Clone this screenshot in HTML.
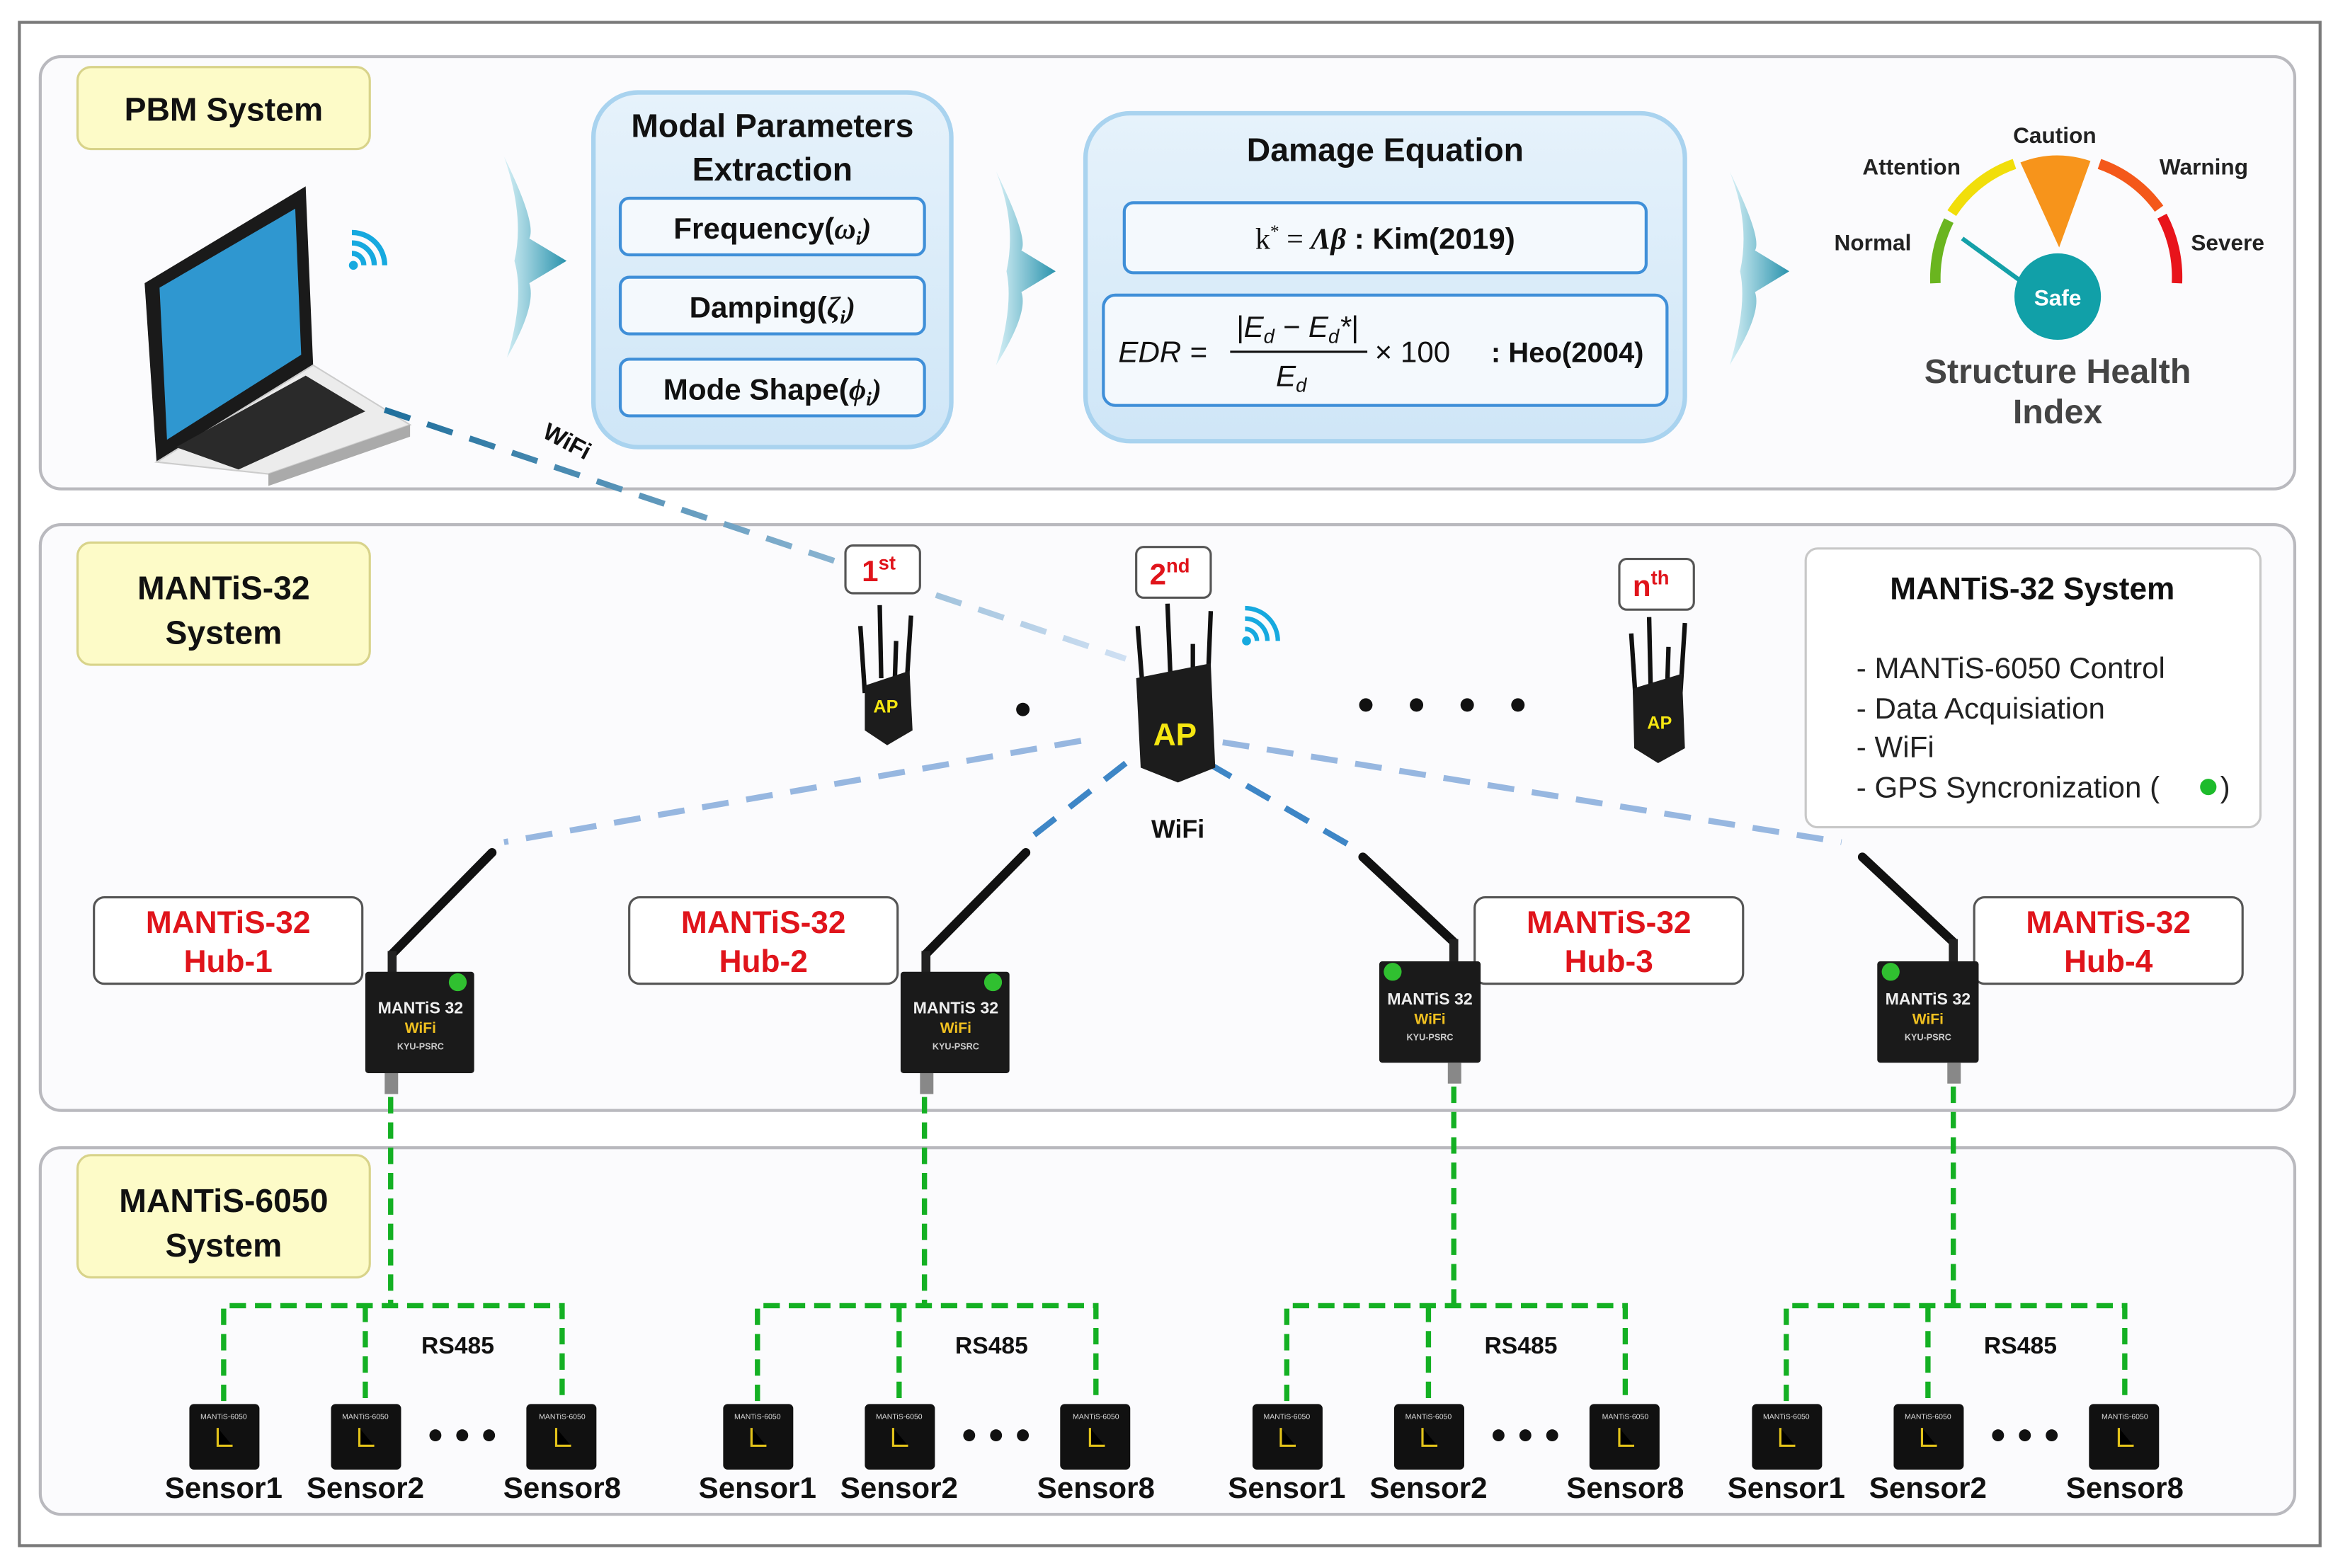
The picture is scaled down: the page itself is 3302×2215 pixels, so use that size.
<!DOCTYPE html>
<html><head><meta charset="utf-8"><style>
html,body{margin:0;padding:0;background:#fff}
svg{display:block}
text{font-family:"Liberation Sans",sans-serif}
</style></head><body>
<svg width="3302" height="2215" viewBox="0 0 1568 1052" preserveAspectRatio="none" xmlns="http://www.w3.org/2000/svg">
<defs>
<linearGradient id="blu" x1="0" y1="0" x2="0" y2="1"><stop offset="0" stop-color="#e6f2fb"/><stop offset="1" stop-color="#cfe6f7"/></linearGradient>
<linearGradient id="arr" x1="0" y1="0" x2="1" y2="0"><stop offset="0" stop-color="#d8f1f7"/><stop offset="1" stop-color="#2a93ad"/></linearGradient>
<linearGradient id="fadeL" x1="0" y1="0" x2="1" y2="0"><stop offset="0" stop-color="#1f6f9c"/><stop offset="1" stop-color="#cfe0f3"/></linearGradient>
</defs>
<rect width="1568" height="1052" fill="#fff"/>
<rect x="13" y="15" width="1543" height="1022" fill="#fff" stroke="#7a7a7a" stroke-width="2"/>
<rect x="27" y="38" width="1512" height="290" rx="14" fill="#fbfbfd" stroke="#b9b9be" stroke-width="2"/>
<rect x="27" y="352" width="1512" height="393" rx="14" fill="#fbfbfd" stroke="#b9b9be" stroke-width="2"/>
<rect x="27" y="770" width="1512" height="246" rx="14" fill="#fbfbfd" stroke="#b9b9be" stroke-width="2"/>
<g fill="#fdfbc8" stroke="#d8d38a" stroke-width="1.5">
<rect x="52" y="45" width="196" height="55" rx="9"/>
<rect x="52" y="364" width="196" height="82" rx="9"/>
<rect x="52" y="775" width="196" height="82" rx="9"/>
</g>
<g font-weight="bold" font-size="22" text-anchor="middle" fill="#111">
<text x="150" y="81">PBM System</text>
<text x="150" y="402">MANTiS-32</text><text x="150" y="432">System</text>
<text x="150" y="813">MANTiS-6050</text><text x="150" y="843">System</text>
</g>
<polygon points="97,190 205,125 210,245 105,310" fill="#1a1a1a"/>
<polygon points="107,193 198,140 202,238 112,295" fill="#2f97d0"/>
<polygon points="105,310 210,245 275,285 180,318" fill="#ececec" stroke="#ccc"/>
<polygon points="118,300 205,252 245,276 160,315" fill="#2a2a2a"/>
<polygon points="180,318 275,285 275,293 180,326" fill="#aaa"/>
<g fill="none" stroke="#16a9df" stroke-width="3.5">
<path d="M236,170 a8,8 0 0 1 8,8"/><path d="M236,163 a15,15 0 0 1 15,15"/><path d="M236,156 a22,22 0 0 1 22,22"/>
</g>
<circle cx="237" cy="178" r="3" fill="#16a9df"/>
<g fill="url(#arr)">
<path d="M338,105 Q360,150 355,160 L380,175 L355,190 Q360,205 340,240 Q352,200 345,175 Q352,145 338,105Z"/>
<path d="M668,115 Q690,160 685,168 L708,182 L685,196 Q690,210 668,245 Q680,205 675,182 Q682,150 668,115Z"/>
<path d="M1160,115 Q1182,160 1177,168 L1200,182 L1177,196 Q1182,210 1160,245 Q1172,205 1167,182 Q1174,150 1160,115Z"/>
</g>
<rect x="398" y="62" width="240" height="238" rx="30" fill="url(#blu)" stroke="#a9d3ef" stroke-width="3"/>
<g font-weight="bold" font-size="22" text-anchor="middle" fill="#111">
<text x="518" y="92">Modal Parameters</text><text x="518" y="121">Extraction</text>
</g>
<g fill="#f4f9fd" stroke="#3f8fd8" stroke-width="2">
<rect x="416" y="133" width="204" height="38" rx="6"/>
<rect x="416" y="186" width="204" height="38" rx="6"/>
<rect x="416" y="241" width="204" height="38" rx="6"/>
</g>
<g font-weight="bold" font-size="20" text-anchor="middle" fill="#111">
<text x="518" y="160">Frequency(<tspan font-family="Liberation Serif" font-style="italic">ω<tspan font-size="13" dy="4">i</tspan><tspan dy="-4">)</tspan></tspan></text>
<text x="518" y="213">Damping(<tspan font-family="Liberation Serif" font-style="italic">ζ<tspan font-size="13" dy="4">i</tspan><tspan dy="-4">)</tspan></tspan></text>
<text x="518" y="268">Mode Shape(<tspan font-family="Liberation Serif" font-style="italic">ϕ<tspan font-size="13" dy="4">i</tspan><tspan dy="-4">)</tspan></tspan></text>
</g>
<rect x="728" y="76" width="402" height="220" rx="30" fill="url(#blu)" stroke="#a9d3ef" stroke-width="3"/>
<text x="929" y="108" font-weight="bold" font-size="22" text-anchor="middle" fill="#111">Damage Equation</text>
<rect x="754" y="136" width="350" height="47" rx="6" fill="#f4f9fd" stroke="#3f8fd8" stroke-width="2"/>
<rect x="740" y="198" width="378" height="74" rx="8" fill="#f4f9fd" stroke="#3f8fd8" stroke-width="2"/>
<text x="929" y="167" font-size="20" text-anchor="middle" fill="#111"><tspan font-family="Liberation Serif">k<tspan font-size="12" dy="-8">*</tspan><tspan dy="8"> = </tspan><tspan font-style="italic" font-weight="bold">Λβ</tspan></tspan><tspan font-weight="bold"> : Kim(2019)</tspan></text>
<g font-family="Liberation Serif" font-style="italic" font-size="20" fill="#111">
<text x="750" y="243">EDR =</text>
<text x="870" y="226" text-anchor="middle">|E<tspan font-size="13" dy="4">d</tspan><tspan dy="-4"> − E</tspan><tspan font-size="13" dy="4">d</tspan><tspan dy="-4">*|</tspan></text>
<line x1="825" y1="236" x2="917" y2="236" stroke="#111" stroke-width="1.5"/>
<text x="866" y="259" text-anchor="middle">E<tspan font-size="13" dy="4">d</tspan></text>
<text x="922" y="243" font-style="normal">× 100</text>
</g>
<text x="1000" y="243" font-weight="bold" font-size="19" fill="#111">: Heo(2004)</text>
<g fill="none" stroke-width="7">
<path d="M1298,190 A82,85 0 0 1 1307,148" stroke="#6ab51f"/>
<path d="M1309,143 A82,85 0 0 1 1351,110" stroke="#f1de0a"/>
<path d="M1408,110 A82,85 0 0 1 1448,140" stroke="#f4581a"/>
<path d="M1450,145 A82,85 0 0 1 1460,190" stroke="#e8141b"/>
</g>
<path d="M1355,109 Q1378,100 1402,108 L1381,166Z" fill="#f7941b"/>
<line x1="1316" y1="160" x2="1360" y2="192" stroke="#14a0a8" stroke-width="3"/>
<circle cx="1380" cy="199" r="29" fill="#11a0a8"/>
<text x="1380" y="205" font-size="15" fill="#fff" text-anchor="middle" font-weight="bold">Safe</text>
<g font-weight="bold" font-size="15" fill="#222" text-anchor="middle">
<text x="1378" y="96">Caution</text><text x="1282" y="117">Attention</text><text x="1478" y="117">Warning</text>
<text x="1256" y="168">Normal</text><text x="1494" y="168">Severe</text>
</g>
<g font-weight="bold" font-size="23" fill="#444" text-anchor="middle">
<text x="1380" y="257">Structure Health</text><text x="1380" y="284">Index</text>
</g>
<line x1="258" y1="275" x2="755" y2="442" stroke="url(#fadeL)" stroke-width="4" stroke-dasharray="18,12"/>
<text x="363" y="293" font-weight="bold" font-size="16" fill="#111" transform="rotate(28 363 293)">WiFi</text>
<g stroke-width="4" stroke-dasharray="18,12" fill="none">
<line x1="725" y1="497" x2="338" y2="565" stroke="#7ea6d8" stroke-opacity="0.8"/>
<line x1="755" y1="512" x2="690" y2="563" stroke="#3e86c6"/>
<line x1="810" y1="512" x2="905" y2="567" stroke="#3e86c6"/>
<line x1="820" y1="498" x2="1235" y2="565" stroke="#7ea6d8" stroke-opacity="0.8"/>
</g>
<g fill="#fff" stroke="#555" stroke-width="1.5">
<rect x="567" y="366" width="50" height="32" rx="5"/>
<rect x="762" y="367" width="50" height="34" rx="5"/>
<rect x="1086" y="375" width="50" height="34" rx="5"/>
</g>
<g font-weight="bold" font-size="20" fill="#e0141b">
<text x="578" y="390">1<tspan font-size="13" dy="-8">st</tspan></text>
<text x="771" y="392">2<tspan font-size="13" dy="-8">nd</tspan></text>
<text x="1095" y="400">n<tspan font-size="13" dy="-8">th</tspan></text>
</g>
<g stroke="#111" stroke-width="3">
<line x1="577" y1="420" x2="580" y2="465"/><line x1="590" y1="406" x2="591" y2="455"/><line x1="611" y1="413" x2="608" y2="460"/><line x1="601" y1="430" x2="600" y2="460"/>
<line x1="763" y1="420" x2="767" y2="470"/><line x1="783" y1="405" x2="785" y2="455"/><line x1="812" y1="410" x2="810" y2="460"/><line x1="800" y1="432" x2="800" y2="460"/>
<line x1="1094" y1="425" x2="1097" y2="470"/><line x1="1106" y1="414" x2="1107" y2="460"/><line x1="1130" y1="418" x2="1127" y2="465"/><line x1="1119" y1="434" x2="1118" y2="465"/>
</g>
<path d="M580,460 L610,450 L612,490 L595,500 L580,490Z" fill="#1c1c1c"/>
<path d="M762,455 L812,445 L815,515 L790,525 L765,515Z" fill="#1c1c1c"/>
<path d="M1095,462 L1128,452 L1130,502 L1112,512 L1096,502Z" fill="#1c1c1c"/>
<g font-weight="bold" fill="#f5e611" text-anchor="middle">
<text x="594" y="478" font-size="12">AP</text>
<text x="788" y="500" font-size="21">AP</text>
<text x="1113" y="489" font-size="12">AP</text>
</g>
<g fill="none" stroke="#16a9df" stroke-width="3">
<path d="M835,422 a8,8 0 0 1 8,8"/><path d="M835,415 a15,15 0 0 1 15,15"/><path d="M835,408 a22,22 0 0 1 22,22"/>
</g>
<circle cx="836" cy="430" r="3" fill="#16a9df"/>
<g fill="#111"><circle cx="686" cy="476" r="4.5"/><circle cx="916" cy="473" r="4.5"/><circle cx="950" cy="473" r="4.5"/><circle cx="984" cy="473" r="4.5"/><circle cx="1018" cy="473" r="4.5"/></g>
<text x="790" y="562" font-weight="bold" font-size="17" text-anchor="middle" fill="#111">WiFi</text>
<rect x="1211" y="368" width="305" height="187" rx="8" fill="#fff" stroke="#c8c8c8" stroke-width="1.5"/>
<text x="1363" y="402" font-weight="bold" font-size="21" text-anchor="middle" fill="#111">MANTiS-32 System</text>
<g font-size="20" fill="#222">
<text x="1245" y="455">- MANTiS-6050 Control</text>
<text x="1245" y="482">- Data Acquisiation</text>
<text x="1245" y="508">- WiFi</text>
<text x="1245" y="535">- GPS Syncronization (</text>
<text x="1489" y="535">)</text>
</g>
<circle cx="1481" cy="528" r="5.5" fill="#1dbb2b"/>
<g fill="#fff" stroke="#555" stroke-width="1.5">
<rect x="63" y="602" width="180" height="58" rx="7"/>
<rect x="422" y="602" width="180" height="58" rx="7"/>
<rect x="989" y="602" width="180" height="58" rx="7"/>
<rect x="1324" y="602" width="180" height="58" rx="7"/>
</g>
<g font-weight="bold" font-size="21" fill="#e0141b" text-anchor="middle">
<text x="153" y="626">MANTiS-32</text><text x="153" y="652">Hub-1</text>
<text x="512" y="626">MANTiS-32</text><text x="512" y="652">Hub-2</text>
<text x="1079" y="626">MANTiS-32</text><text x="1079" y="652">Hub-3</text>
<text x="1414" y="626">MANTiS-32</text><text x="1414" y="652">Hub-4</text>
</g>
<g stroke="#111" stroke-width="6" stroke-linecap="round">
<line x1="263" y1="640" x2="330" y2="572"/><line x1="621" y1="640" x2="688" y2="572"/>
<line x1="975" y1="632" x2="914" y2="575"/><line x1="1310" y1="632" x2="1249" y2="575"/>
</g>
<g stroke="#222" stroke-width="6"><line x1="263" y1="638" x2="263" y2="655"/><line x1="621" y1="638" x2="621" y2="655"/><line x1="975" y1="630" x2="975" y2="648"/><line x1="1310" y1="630" x2="1310" y2="648"/></g>
<g fill="#1a1a1a">
<rect x="245" y="652" width="73" height="68" rx="2"/><rect x="604" y="652" width="73" height="68" rx="2"/>
<rect x="925" y="645" width="68" height="68" rx="2"/><rect x="1259" y="645" width="68" height="68" rx="2"/>
</g>
<g fill="#30c030"><circle cx="307" cy="659" r="6"/><circle cx="666" cy="659" r="6"/><circle cx="934" cy="652" r="6"/><circle cx="1268" cy="652" r="6"/></g>
<g font-weight="bold" text-anchor="middle">
<text x="282" y="680" font-size="11" fill="#eee">MANTiS 32</text><text x="282" y="693" font-size="10" fill="#f0c020">WiFi</text><text x="282" y="704" font-size="6" fill="#ccc">KYU-PSRC</text>
<text x="641" y="680" font-size="11" fill="#eee">MANTiS 32</text><text x="641" y="693" font-size="10" fill="#f0c020">WiFi</text><text x="641" y="704" font-size="6" fill="#ccc">KYU-PSRC</text>
<text x="959" y="674" font-size="11" fill="#eee">MANTiS 32</text><text x="959" y="687" font-size="10" fill="#f0c020">WiFi</text><text x="959" y="698" font-size="6" fill="#ccc">KYU-PSRC</text>
<text x="1293" y="674" font-size="11" fill="#eee">MANTiS 32</text><text x="1293" y="687" font-size="10" fill="#f0c020">WiFi</text><text x="1293" y="698" font-size="6" fill="#ccc">KYU-PSRC</text>
</g>
<g fill="#888"><rect x="258" y="720" width="9" height="14"/><rect x="617" y="720" width="9" height="14"/><rect x="971" y="713" width="9" height="14"/><rect x="1306" y="713" width="9" height="14"/></g>
<g>
<g fill="none" stroke="#14b023" stroke-width="3.5" stroke-dasharray="11,6">
<line x1="262" y1="736" x2="262" y2="876"/>
<polyline points="150,940 150,876 377,876 377,940"/>
<line x1="245" y1="876" x2="245" y2="940"/>
</g>
<g fill="#111"><rect x="127" y="942" width="47" height="44" rx="3"/><rect x="222" y="942" width="47" height="44" rx="3"/><rect x="353" y="942" width="47" height="44" rx="3"/></g>
<g font-size="5" fill="#ddd" text-anchor="middle"><text x="150" y="952">MANTiS-6050</text><text x="245" y="952">MANTiS-6050</text><text x="377" y="952">MANTiS-6050</text></g>
<g stroke="#e2c21a" stroke-width="1.5"><path d="M146,958 v12 h10"/><path d="M241,958 v12 h10"/><path d="M373,958 v12 h10"/></g>
<g fill="#111"><circle cx="292" cy="963" r="4"/><circle cx="310" cy="963" r="4"/><circle cx="328" cy="963" r="4"/></g>
<text x="307" y="908" font-weight="bold" font-size="16" text-anchor="middle" fill="#111">RS485</text>
<g font-weight="bold" font-size="20" text-anchor="middle" fill="#111"><text x="150" y="1005">Sensor1</text><text x="245" y="1005">Sensor2</text><text x="377" y="1005">Sensor8</text></g>
</g>
<g transform="translate(358,0)">
<g fill="none" stroke="#14b023" stroke-width="3.5" stroke-dasharray="11,6">
<line x1="262" y1="736" x2="262" y2="876"/><polyline points="150,940 150,876 377,876 377,940"/><line x1="245" y1="876" x2="245" y2="940"/>
</g>
<g fill="#111"><rect x="127" y="942" width="47" height="44" rx="3"/><rect x="222" y="942" width="47" height="44" rx="3"/><rect x="353" y="942" width="47" height="44" rx="3"/></g>
<g font-size="5" fill="#ddd" text-anchor="middle"><text x="150" y="952">MANTiS-6050</text><text x="245" y="952">MANTiS-6050</text><text x="377" y="952">MANTiS-6050</text></g>
<g stroke="#e2c21a" stroke-width="1.5"><path d="M146,958 v12 h10"/><path d="M241,958 v12 h10"/><path d="M373,958 v12 h10"/></g>
<g fill="#111"><circle cx="292" cy="963" r="4"/><circle cx="310" cy="963" r="4"/><circle cx="328" cy="963" r="4"/></g>
<text x="307" y="908" font-weight="bold" font-size="16" text-anchor="middle" fill="#111">RS485</text>
<g font-weight="bold" font-size="20" text-anchor="middle" fill="#111"><text x="150" y="1005">Sensor1</text><text x="245" y="1005">Sensor2</text><text x="377" y="1005">Sensor8</text></g>
</g>
<g transform="translate(713,0)">
<g fill="none" stroke="#14b023" stroke-width="3.5" stroke-dasharray="11,6">
<line x1="262" y1="729" x2="262" y2="876"/><polyline points="150,940 150,876 377,876 377,940"/><line x1="245" y1="876" x2="245" y2="940"/>
</g>
<g fill="#111"><rect x="127" y="942" width="47" height="44" rx="3"/><rect x="222" y="942" width="47" height="44" rx="3"/><rect x="353" y="942" width="47" height="44" rx="3"/></g>
<g font-size="5" fill="#ddd" text-anchor="middle"><text x="150" y="952">MANTiS-6050</text><text x="245" y="952">MANTiS-6050</text><text x="377" y="952">MANTiS-6050</text></g>
<g stroke="#e2c21a" stroke-width="1.5"><path d="M146,958 v12 h10"/><path d="M241,958 v12 h10"/><path d="M373,958 v12 h10"/></g>
<g fill="#111"><circle cx="292" cy="963" r="4"/><circle cx="310" cy="963" r="4"/><circle cx="328" cy="963" r="4"/></g>
<text x="307" y="908" font-weight="bold" font-size="16" text-anchor="middle" fill="#111">RS485</text>
<g font-weight="bold" font-size="20" text-anchor="middle" fill="#111"><text x="150" y="1005">Sensor1</text><text x="245" y="1005">Sensor2</text><text x="377" y="1005">Sensor8</text></g>
</g>
<g transform="translate(1048,0)">
<g fill="none" stroke="#14b023" stroke-width="3.5" stroke-dasharray="11,6">
<line x1="262" y1="729" x2="262" y2="876"/><polyline points="150,940 150,876 377,876 377,940"/><line x1="245" y1="876" x2="245" y2="940"/>
</g>
<g fill="#111"><rect x="127" y="942" width="47" height="44" rx="3"/><rect x="222" y="942" width="47" height="44" rx="3"/><rect x="353" y="942" width="47" height="44" rx="3"/></g>
<g font-size="5" fill="#ddd" text-anchor="middle"><text x="150" y="952">MANTiS-6050</text><text x="245" y="952">MANTiS-6050</text><text x="377" y="952">MANTiS-6050</text></g>
<g stroke="#e2c21a" stroke-width="1.5"><path d="M146,958 v12 h10"/><path d="M241,958 v12 h10"/><path d="M373,958 v12 h10"/></g>
<g fill="#111"><circle cx="292" cy="963" r="4"/><circle cx="310" cy="963" r="4"/><circle cx="328" cy="963" r="4"/></g>
<text x="307" y="908" font-weight="bold" font-size="16" text-anchor="middle" fill="#111">RS485</text>
<g font-weight="bold" font-size="20" text-anchor="middle" fill="#111"><text x="150" y="1005">Sensor1</text><text x="245" y="1005">Sensor2</text><text x="377" y="1005">Sensor8</text></g>
</g>
</svg>
</body></html>
